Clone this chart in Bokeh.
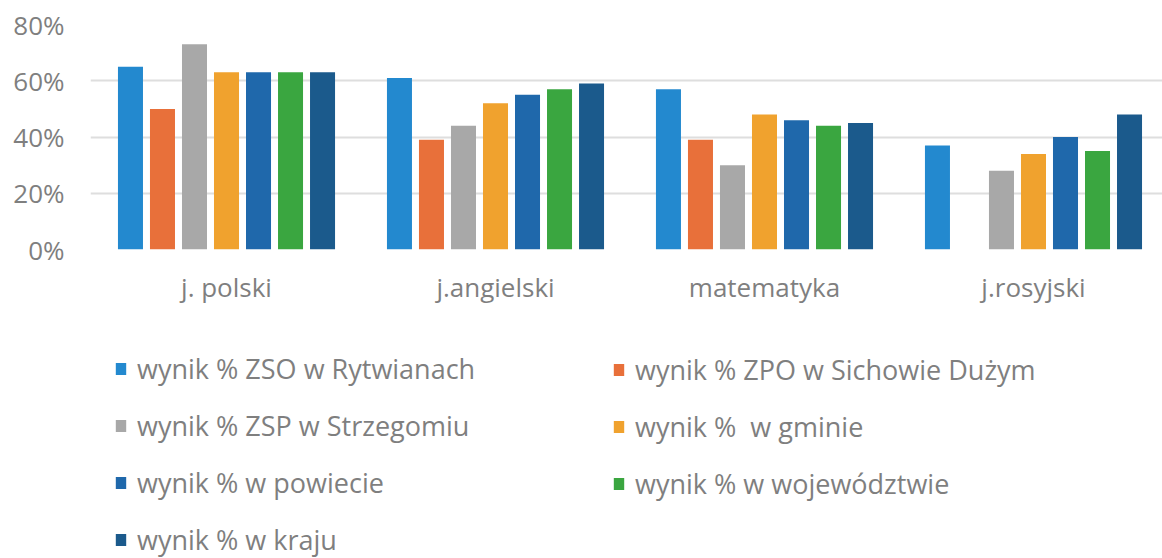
from bokeh.plotting import figure
from bokeh.layouts import column
from bokeh.models import ColumnDataSource, FixedTicker, NumeralTickFormatter, Legend, LegendItem
from bokeh.embed import file_html
from bokeh.resources import INLINE

categories = ["j. polski", "j.angielski", "matematyka", "j.rosyjski"]

series_names = [
    "wynik % ZSO w Rytwianach",
    "wynik % ZPO w Sichowie Dużym",
    "wynik % ZSP w Strzegomiu",
    "wynik %  w gminie",
    "wynik % w powiecie",
    "wynik % w województwie",
    "wynik % w kraju",
]

zso_rytwiany = [0.65, 0.61, 0.57, 0.37]
zpo_sichow = [0.50, 0.39, 0.39, float("nan")]
zsp_strzegom = [0.73, 0.44, 0.30, 0.28]
gmina = [0.63, 0.52, 0.48, 0.34]
powiat = [0.63, 0.55, 0.46, 0.40]
wojewodztwo = [0.63, 0.57, 0.44, 0.35]
kraj = [0.63, 0.59, 0.45, 0.48]

series_values = [zso_rytwiany, zpo_sichow, zsp_strzegom, gmina, powiat, wojewodztwo, kraj]

colors = ["#2389cf", "#e8703a", "#a8a8a8", "#f0a22e", "#1f68ab", "#3aa640", "#1b5a8c"]

y_ticks = [0, 0.2, 0.4, 0.6, 0.8]

FONT = "Open Sans"
TXT = "#7f7f7f"
W = 1162

# ---- chart ----
p = figure(width=W, height=320, output_backend="svg", toolbar_location=None,
           x_range=(-0.5056, 3.4796), y_range=(0, 0.8),
           min_border_left=90, min_border_right=0, min_border_top=24, min_border_bottom=71)
p.outline_line_color = None
p.background_fill_color = "white"
p.border_fill_color = "white"

pitch = 0.119
bw = 0.093
for j, (name, vals) in enumerate(zip(series_names, series_values)):
    xs = [i + (j - 3) * pitch for i in range(len(categories))]
    src = ColumnDataSource(dict(x=xs, top=vals))
    p.vbar(x="x", top="top", width=bw, bottom=0, source=src,
           fill_color=colors[j], line_color=None)

p.xaxis.ticker = FixedTicker(ticks=list(range(len(categories))))
p.xaxis.major_label_overrides = {i: c for i, c in enumerate(categories)}
p.yaxis.ticker = FixedTicker(ticks=y_ticks)
p.yaxis.formatter = NumeralTickFormatter(format="0%")
for ax in (p.xaxis[0], p.yaxis[0]):
    ax.axis_line_color = None
    ax.major_tick_line_color = None
    ax.minor_tick_line_color = None
    ax.major_tick_in = 0
    ax.major_tick_out = 0
    ax.major_label_text_font = FONT
    ax.major_label_text_font_size = "26px"
    ax.major_label_text_color = TXT
p.yaxis.major_label_standoff = 26
p.xaxis.major_label_standoff = 19
p.xgrid.grid_line_color = None
p.ygrid.grid_line_color = "#dedede"
p.ygrid.grid_line_width = 2

# ---- legend panel ----
p2 = figure(width=W, height=238, output_backend="svg", toolbar_location=None,
            x_range=(0, 1), y_range=(0, 1), x_axis_location=None, y_axis_location=None,
            min_border_left=0, min_border_right=0, min_border_top=0, min_border_bottom=0)
p2.outline_line_color = None
p2.xgrid.grid_line_color = None
p2.ygrid.grid_line_color = None
p2.background_fill_color = "white"
p2.border_fill_color = "white"

legend_renderers = []
for j in range(len(series_names)):
    src = ColumnDataSource(dict(x=[float("nan")], top=[float("nan")]))
    r = p2.vbar(x="x", top="top", width=0.1, source=src, fill_color=colors[j], line_color=None)
    legend_renderers.append(r)

def make_legend(idx, loc):
    items = [LegendItem(label=series_names[k], renderers=[legend_renderers[k]], index=0) for k in idx]
    return Legend(items=items, location=loc, orientation="vertical",
                  label_text_font=FONT, label_text_font_size="27px", label_text_color=TXT,
                  glyph_width=13, glyph_height=15, label_height=36, label_standoff=10,
                  spacing=20, padding=0, margin=0,
                  border_line_color=None, background_fill_alpha=0)

p2.add_layout(make_legend([0, 2, 4, 6], (24, 0)))
p2.add_layout(make_legend([1, 3, 5], (522, 56)))

layout = column(p, p2, spacing=0)
open("out.html", "w").write(file_html(layout, INLINE))
